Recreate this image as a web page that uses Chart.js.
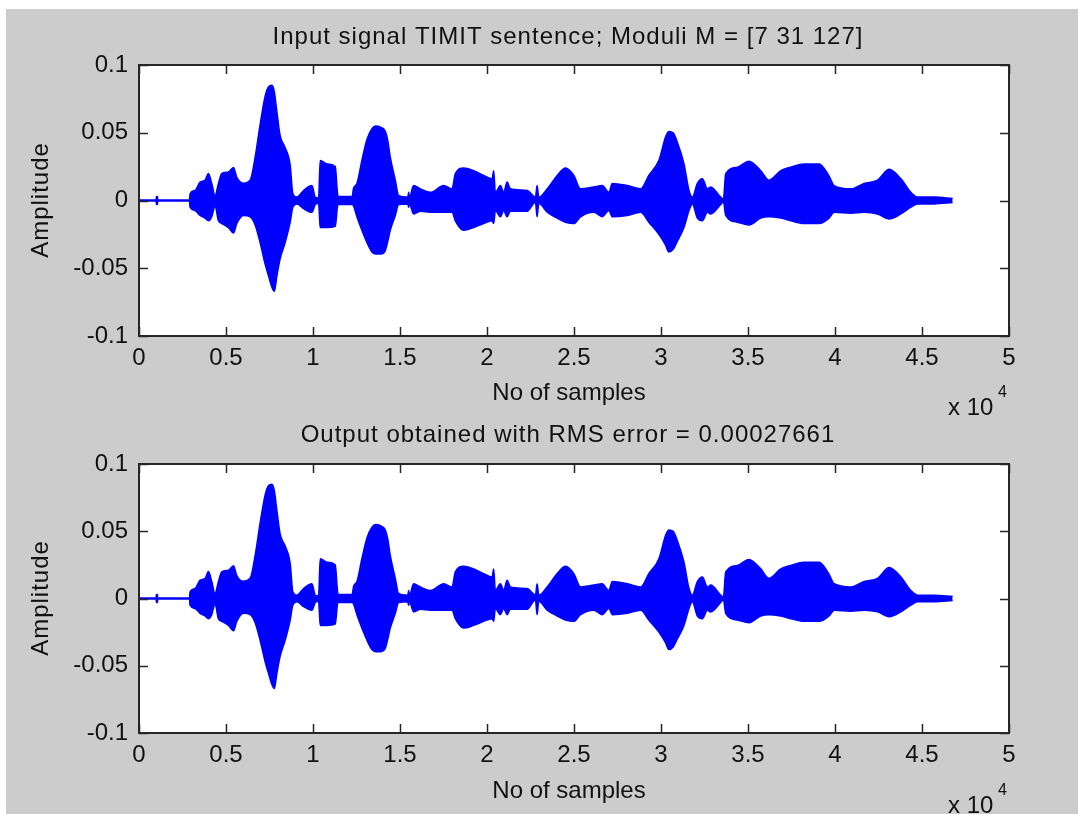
<!DOCTYPE html>
<html>
<head>
<meta charset="utf-8">
<script src="https://cdn.jsdelivr.net/npm/chart.js@4/dist/chart.umd.min.js"></script>
<style>
  html, body { margin: 0; padding: 0; background: #ffffff; }
  #wrap { position: relative; width: 1078px; height: 814px; overflow: hidden; background: #ffffff; }
  #fig { position: absolute; left: 6px; top: 9px; width: 1072px; height: 805px; background: #cccccc; }
  canvas { position: absolute; left: 0; top: 0; }
</style>
</head>
<body>
<div id="wrap">
  <div id="fig"></div>
  <canvas id="c1" width="1078" height="814"></canvas>
  <canvas id="c2" width="1078" height="814"></canvas>
</div>
<script>
// ---- Data (envelope of the speech waveform) ----
const sampleIndex = [
  0, 980, 1000, 1060, 1080, 2900, 2935, 3220, 3510, 3800, 3990, 4180, 4370, 4565, 4760, 5140, 5430, 5620, 6000, 6390,
  6675, 6960, 7250, 7450, 7640, 7780, 7920, 8110, 8400, 8690, 8840, 9075, 9455, 9940, 10130, 10320, 10415, 10800, 11280, 11410,
  11450, 12250, 12330, 12525, 12810, 13100, 13390, 13600, 13900, 14155, 14300, 14440, 14730, 14920, 15450, 15495, 15540, 15785, 16170, 16745,
  17510, 17990, 18180, 18660, 19235, 19810, 20290, 20385, 20480, 20770, 20960, 21155, 21345, 22305, 22785, 22880, 22975, 23460, 24035, 24510,
  24990, 25375, 26140, 26620, 27005, 27200, 28060, 28830, 29300, 29880, 30265, 30450, 30700, 30940, 31320, 31610, 31800, 32090, 32380, 32665,
  32855, 33430, 33585, 33720, 34390, 35060, 35730, 36210, 36880, 37455, 38220, 39085, 39660, 39950, 40910, 41675, 42445, 43115, 43785, 44360,
  44745, 45705, 46760
];
const inputUpper = [
  0.0004, 0.0004, 0.003, 0.003, 0.0004, 0.0004, 0.005, 0.0074, 0.0136, 0.015, 0.020, 0.0126, 0.0037, 0.0126, 0.020, 0.021, 0.0244, 0.017, 0.0128, 0.015,
  0.032, 0.056, 0.077, 0.084, 0.085, 0.080, 0.066, 0.048, 0.039, 0.026, 0.005, 0.0025, 0.0074, 0.011, 0.0025, 0.002, 0.0296, 0.027, 0.025, 0.005,
  0.003, 0.003, 0.009, 0.0126, 0.0296, 0.045, 0.053, 0.055, 0.054, 0.051, 0.044, 0.032, 0.015, 0.0037, 0.0025, 0.006, 0.0025, 0.011, 0.0086, 0.006,
  0.011, 0.0086, 0.0198, 0.024, 0.022, 0.0185, 0.016, 0.022, 0.006, 0.011, 0.006, 0.0136, 0.0086, 0.0074, 0.0025, 0.011, 0.0025, 0.0086, 0.0185, 0.024,
  0.0185, 0.0086, 0.010, 0.011, 0.006, 0.0126, 0.011, 0.0086, 0.0185, 0.0296, 0.047, 0.051, 0.050, 0.043, 0.027, 0.0074, 0.0025, 0.0126, 0.016, 0.0086,
  0.010, 0.0025, 0.001, 0.0198, 0.0246, 0.029, 0.022, 0.015, 0.022, 0.0246, 0.027, 0.027, 0.018, 0.011, 0.0086, 0.0126, 0.015, 0.023, 0.016, 0.006,
  0.0025, 0.0025, 0.0015
];
const inputLower = [
  -0.0004, -0.0004, -0.003, -0.003, -0.0004, -0.0004, -0.005, -0.0074, -0.011, -0.013, -0.015, -0.012, -0.004, -0.015, -0.017, -0.020, -0.024, -0.017, -0.011, -0.012,
  -0.018, -0.031, -0.047, -0.056, -0.064, -0.067, -0.056, -0.043, -0.031, -0.016, -0.005, -0.0025, -0.006, -0.0087, -0.003, -0.002, -0.020, -0.020, -0.019, -0.004,
  -0.003, -0.003, -0.004, -0.012, -0.022, -0.031, -0.038, -0.0395, -0.0395, -0.037, -0.030, -0.022, -0.011, -0.003, -0.0025, -0.005, -0.0025, -0.010, -0.008, -0.0087,
  -0.0087, -0.0087, -0.015, -0.022, -0.020, -0.017, -0.015, -0.017, -0.0074, -0.012, -0.0074, -0.012, -0.008, -0.008, -0.0012, -0.012, -0.002, -0.0087, -0.013, -0.016,
  -0.017, -0.012, -0.0087, -0.012, -0.0074, -0.012, -0.011, -0.0087, -0.016, -0.025, -0.033, -0.038, -0.036, -0.030, -0.020, -0.0074, -0.0025, -0.013, -0.015, -0.0087,
  -0.010, -0.003, -0.001, -0.011, -0.016, -0.018, -0.013, -0.012, -0.013, -0.015, -0.017, -0.017, -0.013, -0.0087, -0.0094, -0.0087, -0.0099, -0.0136, -0.0099, -0.0049,
  -0.0025, -0.0025, -0.0015
];
// Reconstructed output is visually identical to the input (RMS error 0.00027661)
const outputUpper = inputUpper.slice();
const outputLower = inputLower.slice();

const xTickValues = [0, 5000, 10000, 15000, 20000, 25000, 30000, 35000, 40000, 45000, 50000];
const xTickLabels = ['0', '0.5', '1', '1.5', '2', '2.5', '3', '3.5', '4', '4.5', '5'];
const yTickValues = [-0.1, -0.05, 0, 0.05, 0.1];
const yTickLabels = ['-0.1', '-0.05', '0', '0.05', '0.1'];

const title1 = 'Input signal TIMIT sentence; Moduli M = [7 31 127]';
const title2 = 'Output obtained with RMS error = 0.00027661';
const xAxisTitle = 'No of samples';
const yAxisTitle = 'Amplitude';
const xExponentBase = 'x 10';
const xExponent = '4';

const FONT = "'Liberation Sans', Arial, sans-serif";
const BLUE = 'rgb(0,0,255)';
const TEXT = '#111111';

function makeChart(canvasId, upper, lower, cfg) {
  const upperPts = sampleIndex.map((s, i) => ({ x: s, y: upper[i] }));
  const lowerPts = sampleIndex.map((s, i) => ({ x: s, y: lower[i] }));

  const decor = {
    id: 'matlabDecor_' + canvasId,
    beforeDraw(chart) {
      const a = chart.chartArea, ctx = chart.ctx;
      ctx.save();
      ctx.fillStyle = '#ffffff';
      ctx.fillRect(a.left, a.top, a.right - a.left, a.bottom - a.top);
      ctx.restore();
    },
    afterDraw(chart) {
      const a = chart.chartArea, ctx = chart.ctx;
      const xs = chart.scales.x, ys = chart.scales.y;
      ctx.save();
      ctx.strokeStyle = '#262626';
      ctx.lineWidth = 1.5;
      const tl = 9;
      ctx.beginPath();
      xTickValues.forEach(v => {
        const px = Math.round(xs.getPixelForValue(v)) + 0.5;
        ctx.moveTo(px, a.bottom); ctx.lineTo(px, a.bottom - tl);
        ctx.moveTo(px, a.top); ctx.lineTo(px, a.top + tl);
      });
      yTickValues.forEach(v => {
        const py = Math.round(ys.getPixelForValue(v)) + 0.5;
        ctx.moveTo(a.left, py); ctx.lineTo(a.left + tl, py);
        ctx.moveTo(a.right, py); ctx.lineTo(a.right - tl, py);
      });
      ctx.stroke();
      ctx.lineWidth = 2;
      ctx.strokeRect(a.left, a.top, a.right - a.left, a.bottom - a.top);

      ctx.fillStyle = TEXT;
      ctx.textBaseline = 'alphabetic';
      ctx.font = '24px ' + FONT;
      ctx.textAlign = 'center';
      if ('letterSpacing' in ctx) ctx.letterSpacing = '1px';
      ctx.fillText(cfg.title, 568, cfg.titleY);
      if ('letterSpacing' in ctx) ctx.letterSpacing = '0px';
      ctx.fillText(xAxisTitle, 569, cfg.xLabelY);
      ctx.textAlign = 'left';
      ctx.fillText(xExponentBase, 948, cfg.expY);
      ctx.font = '16px ' + FONT;
      ctx.fillText(xExponent, 998, cfg.expY - 18);
      ctx.font = '24px ' + FONT;
      ctx.translate(41, cfg.yLabelY);
      ctx.rotate(-Math.PI / 2);
      ctx.textAlign = 'center';
      ctx.textBaseline = 'middle';
      if ('letterSpacing' in ctx) ctx.letterSpacing = '1px';
      ctx.fillText(yAxisTitle, 0, 0);
      ctx.restore();
    }
  };

  return new Chart(document.getElementById(canvasId), {
    type: 'line',
    data: {
      datasets: [
        { data: upperPts, borderColor: BLUE, backgroundColor: BLUE, borderWidth: 1.5, pointRadius: 0, cubicInterpolationMode: 'monotone', fill: '+1' },
        { data: lowerPts, borderColor: BLUE, backgroundColor: BLUE, borderWidth: 1.5, pointRadius: 0, cubicInterpolationMode: 'monotone', fill: false }
      ]
    },
    options: {
      responsive: false,
      animation: false,
      events: [],
      layout: { padding: { left: 0, right: 1078 - 1009, top: cfg.top, bottom: 814 - cfg.bottom - 40 } },
      plugins: { legend: { display: false }, tooltip: { enabled: false }, title: { display: false } },
      scales: {
        x: {
          type: 'linear', min: 0, max: 50000,
          grid: { display: false, drawTicks: false },
          border: { display: false },
          afterBuildTicks(s) { s.ticks = xTickValues.map(v => ({ value: v })); },
          afterFit(s) { s.height = 40; },
          ticks: {
            autoSkip: false, maxRotation: 0, minRotation: 0, padding: 8,
            color: TEXT, font: { family: FONT, size: 24 },
            callback: (v) => { const i = xTickValues.indexOf(v); return i >= 0 ? xTickLabels[i] : ''; }
          }
        },
        y: {
          type: 'linear', min: -0.1, max: 0.1,
          grid: { display: false, drawTicks: false },
          border: { display: false },
          afterBuildTicks(s) { s.ticks = yTickValues.map(v => ({ value: v })); },
          afterFit(s) { s.width = 139; },
          ticks: {
            autoSkip: false, padding: 11,
            color: TEXT, font: { family: FONT, size: 24 },
            callback: (v) => { const i = yTickValues.findIndex(t => Math.abs(t - v) < 1e-9); return i >= 0 ? yTickLabels[i] : ''; }
          }
        }
      }
    },
    plugins: [decor]
  });
}

makeChart('c1', inputUpper, inputLower, { title: title1, top: 65, bottom: 336, titleY: 44, xLabelY: 400, expY: 415, yLabelY: 200 });
makeChart('c2', outputUpper, outputLower, { title: title2, top: 464, bottom: 733, titleY: 442, xLabelY: 798, expY: 813, yLabelY: 598 });
</script>
</body>
</html>
